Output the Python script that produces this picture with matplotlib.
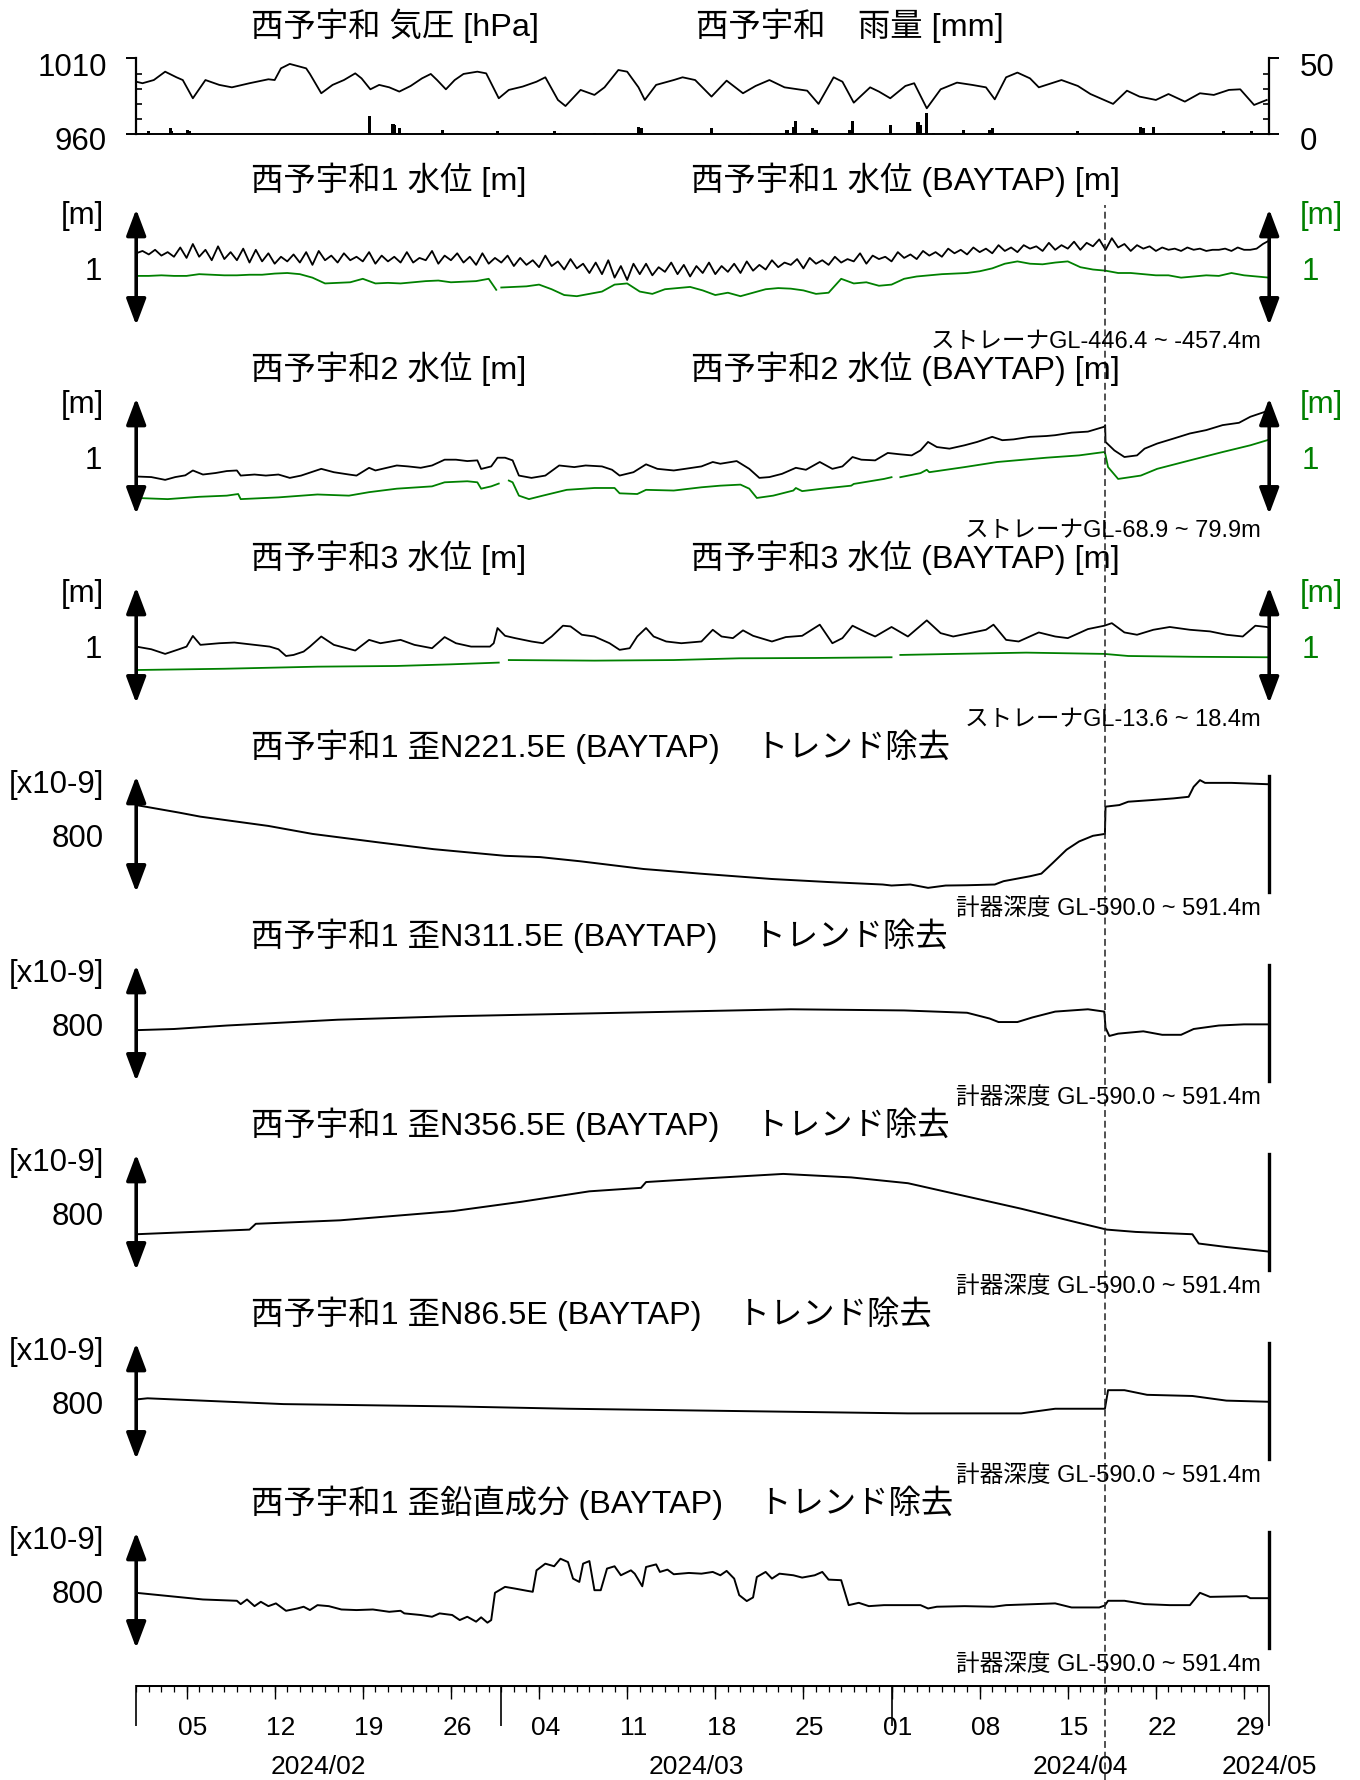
import numpy as np
import matplotlib.pyplot as plt
from matplotlib.lines import Line2D
from matplotlib.transforms import blended_transform_factory

plt.rcParams['font.family'] = ['Liberation Sans', 'Noto Sans CJK JP']

# ---------------- data (x = days since 2024-02-01 00:00) ----------------
quake_day = 76.97

pres_day = [0.0, 0.5, 1.4, 2.3, 3.2, 3.7, 4.5, 5.5, 6.6, 7.6, 9.0, 10.5, 11.0, 11.5, 12.2,
            13.5, 13.8, 14.7, 15.6, 16.5, 17.4, 17.9, 18.6, 19.3, 20.1, 20.9, 21.8, 22.7,
            23.4, 23.9, 24.6, 25.3, 26.0, 27.1, 27.8, 28.8, 29.6, 30.7, 31.8, 32.5, 33.5,
            34.1, 35.3, 36.4, 37.2, 38.3, 39.0, 39.9, 40.4, 41.3, 42.7, 43.4, 44.4, 45.7,
            46.9, 48.2, 49.2, 50.3, 51.5, 53.3, 54.2, 55.4, 56.1, 57.0, 58.3, 59.0, 59.9,
            61.1, 61.8, 62.8, 63.9, 65.2, 66.4, 67.5, 68.2, 69.1, 70.0, 71.0, 71.7, 73.5,
            74.8, 75.8, 77.6, 78.7, 79.7, 81.0, 82.0, 83.3, 84.5, 85.6, 86.8, 87.7, 88.8, 89.8]
pres_hpa = [994.6, 993.6, 995.7, 1001.2, 997.5, 995.7, 983.7, 995.7, 992.5, 990.9, 993.6,
            996.2, 995.7, 1003.4, 1006.3, 1003.4, 999.7, 987.0, 992.5, 995.7, 1000.1, 996.8,
            989.6, 992.5, 990.9, 988.1, 991.8, 996.8, 999.7, 995.7, 989.6, 995.7, 999.7,
            1001.2, 1000.1, 983.7, 989.2, 991.4, 994.6, 997.5, 982.6, 978.6, 989.2, 985.9,
            990.9, 1002.3, 1001.2, 990.9, 982.6, 992.5, 995.7, 997.5, 995.7, 984.8, 995.3,
            987.0, 991.8, 995.7, 990.9, 988.7, 980.0, 997.5, 994.6, 980.8, 990.9, 988.1,
            983.7, 991.8, 993.6, 977.1, 989.6, 994.0, 992.5, 990.9, 983.0, 997.5, 1000.6,
            996.8, 990.9, 995.7, 991.8, 986.5, 980.0, 988.7, 984.8, 982.6, 986.5, 981.5,
            987.0, 985.9, 989.2, 989.6, 979.3, 982.6]

rain_day = [1.0, 2.7, 2.8, 4.1, 4.2, 14.1, 18.5, 18.55, 20.4, 20.5, 20.9, 21.5, 24.3, 28.7,
            33.2, 33.7, 36.4, 39.9, 40.1, 45.7, 48.7, 51.7, 52.2, 52.4, 53.7, 54.0, 56.7,
            56.9, 59.9, 62.1, 62.3, 62.8, 63.3, 65.7, 67.8, 68.0, 74.8, 79.8, 80.0, 80.8,
            82.0, 83.8, 86.4, 88.6]
rain_mm = [2, 4, 2, 3, 2, 0.5, 12, 6, 7, 6, 4, 1, 3, 2, 2, 1, 1, 5, 4, 4, 1, 3, 5, 9, 4, 3,
           3, 9, 6, 8, 6, 14, 1, 3, 3, 4, 2, 5, 4, 5, 1, 0.5, 2, 2]

# well 1 observed level, every 12 h [cm]
wl1_obs_cm = [12, 14, 11, 15, 10, 13, 9, 17, 8, 20, 9, 15, 6, 18, 7, 13, 6, 16, 4, 15,
              5, 12, 3, 9, 5, 11, 4, 13, 2, 14, 6, 10, 4, 12, 6, 9, 5, 13, 3, 10,
              5, 9, 4, 13, 4, 8, 6, 14, 3, 10, 6, 12, 4, 9, 2, 12, 3, 8, 4, 10,
              1, 8, 2, 6, 0, 10, 1, 5, -2, 7, -1, 3, -5, 4, -6, 6, -9, 1, -11, 3,
              -6, 3, -7, 0, -4, 4, -6, 2, -8, 1, -5, 4, -6, 1, -4, 3, -5, 5, -3, 2,
              -2, 6, 0, 4, 2, 7, -1, 8, 3, 6, 2, 9, 4, 7, 5, 12, 3, 10, 7, 9,
              5, 13, 8, 11, 7, 14, 10, 13, 9, 16, 12, 15, 11, 17, 13, 16, 12, 19, 14, 17,
              13, 19, 16, 18, 14, 21, 15, 19, 16, 22, 15, 21, 18, 24, 15, 25, 17, 20, 14, 19,
              16, 18, 14, 17, 15, 16, 14, 17, 15, 16, 14, 15, 15, 16, 14, 17, 15, 15, 16, 20,
              23]

wl1_adj = [(0, -7.5), (1, -7.5), (2, -7), (3, -7.5), (4, -7.5), (5, -6), (6, -6.5), (7, -7),
           (8, -7), (9, -6.5), (10, -6.5), (11, -5.5), (12, -5), (13, -6), (14, -9), (15, -14),
           (16, -13.5), (17, -13), (18, -10), (19, -14), (20, -13.5), (21, -14), (22, -13),
           (23, -12), (24, -11.5), (25, -13), (26, -12.5), (27, -12), (28, -10), (28.6, -19.5),
           (28.85, np.nan), (29.0, -17.5), (30, -17), (31, -16.5), (32, -15), (33, -19), (34, -24),
           (35, -25), (36, -23), (37, -21), (38, -15), (39, -14), (40, -21), (41, -23),
           (42, -19), (43, -18), (44, -17), (45, -20), (46, -24), (47, -22), (48, -25),
           (49, -22), (50, -19), (51, -18), (52, -18.5), (53, -20), (54, -23), (55, -22),
           (56, -10), (57, -14), (58, -13), (59, -16), (60, -15), (61, -10), (62, -8),
           (63, -7), (64, -6), (65, -5.5), (66, -5), (67, -3.5), (68, -1), (69, 3), (70, 5),
           (71, 3), (72, 2.5), (73, 4), (74, 5), (75, 0), (76, -2), (77, -3), (78, -5),
           (79, -5), (80, -6), (81, -7), (82, -7), (83, -9), (84, -8), (85, -7), (86, -7.5),
           (87, -5), (88, -7), (89, -8), (90, -9)]

wl2_obs = [(0.0, -17.5), (1.2, -18), (2.3, -20.4), (3.1, -18), (3.9, -16.5), (4.5, -12.3),
           (5.3, -15.8), (6.3, -14.5), (7.2, -12.8), (8.0, -12.3), (8.3, -16.7), (9.4, -15.8),
           (10.3, -16.7), (11.3, -15.8), (12.2, -18.7), (13.1, -16.7), (14.7, -10.9),
           (15.7, -13.8), (16.9, -15.8), (17.5, -16.7), (18.5, -10), (19.0, -12.3), (20.7, -8),
           (21.6, -8.8), (22.6, -10), (23.5, -8), (24.5, -3), (25.4, -3), (26.3, -4.2),
           (27.1, -3.6), (27.4, -11), (28.2, -8.8), (28.7, -1.3), (29.3, -1.3), (29.9, -3.6),
           (30.4, -16.7), (31.4, -18.7), (32.5, -16.7), (33.6, -8), (34.8, -9.4), (35.7, -8),
           (37.0, -8.8), (37.8, -11.7), (38.4, -16.7), (39.5, -13.8), (40.5, -7), (41.4, -10.9),
           (42.7, -12.3), (43.6, -10.9), (44.9, -8.8), (45.8, -5), (46.4, -6.5), (47.7, -4.2),
           (48.7, -10.9), (49.5, -18.7), (50.3, -18), (51.3, -15.2), (52.4, -10), (53.2, -11.7),
           (54.3, -5), (55.3, -10.9), (56.1, -8.8), (56.9, -0.7), (57.6, -3), (58.7, -3.6),
           (59.7, 2.8), (60.7, 1.6), (61.6, 0.7), (62.3, 5), (62.9, 12.3), (63.6, 7.9),
           (64.6, 6.5), (65.8, 9.4), (66.8, 12.3), (68.0, 16.7), (68.8, 13.8), (69.7, 14.5),
           (71.0, 16.7), (72.3, 17.4), (73.0, 18.1), (74.3, 20.3), (75.6, 21.2), (76.9, 25.4),
           (76.97, 26.8), (77.0, 12.3), (77.7, 5), (78.5, -0.7), (79.5, 0.7), (80.1, 6.5),
           (81.1, 10.9), (82.4, 15.2), (83.7, 19.6), (85.0, 22.5), (86.3, 26.8), (87.6, 28.8),
           (88.5, 34), (89.7, 38.4), (90.0, 38)]

wl2_adj = [(0, -36), (2.5, -37), (5, -35), (7.2, -34), (8.1, -32.6), (8.3, -37), (11.3, -35.5),
           (14.4, -33), (16.9, -34), (18.5, -31), (20.7, -28), (23.5, -26), (24.5, -22.5),
           (26.3, -21.6), (27.1, -22.5), (27.4, -28), (28.2, -26), (28.8, -23.6), (28.95, np.nan),
           (29.6, -21), (29.9, -22.5), (30.4, -34), (31.2, -37), (32.3, -34), (34.2, -29),
           (36.4, -27.4), (38.0, -27.4), (38.4, -32), (39.8, -32.6), (40.5, -29), (42.7, -29.6),
           (44.9, -26.8), (46.4, -25.4), (48.0, -24.5), (48.7, -28), (49.3, -36), (50.6, -34),
           (52.2, -29.6), (52.4, -27.4), (52.9, -30.1), (54.5, -28), (56.8, -25.4), (57.0, -23.9),
           (59.4, -19.6), (60.0, -18.1), (60.4, np.nan), (60.7, -18.1), (62.3, -14.6),
           (62.8, -11.7), (63.0, -13.8), (65.8, -9.4), (68.4, -5), (72.3, -1.3), (74.9, 0.7),
           (76.9, 3.6), (76.97, 2.2), (77.2, -9.4), (78.0, -19.6), (79.8, -16.7), (81.1, -10.9),
           (83.7, -3.6), (86.3, 3.6), (88.5, 9.4), (90.0, 14.3)]

wl3_obs = [(0, -1.2), (1.2, -3.5), (2.3, -7.5), (3.4, -3.5), (4.0, -1.2), (4.5, 8), (5.1, 0.3),
           (6.6, 1.7), (7.8, 2.3), (9.4, 0.3), (10.6, -1.2), (11.3, -3.5), (11.9, -9.3),
           (12.5, -8.4), (13.3, -5.5), (13.8, -1.2), (14.7, 7.5), (15.7, 0.3), (17.4, -4.6),
           (18.5, 4.6), (19.4, 1.7), (21.0, 4.6), (22.1, 0.3), (23.5, -2.6), (24.5, 7),
           (25.4, 1.7), (26.6, -1.2), (28.1, -1.2), (28.4, 1.7), (28.7, 14.8), (29.3, 8.1),
           (30.1, 6.1), (31.4, 3.2), (32.3, 1.7), (33.0, 7.5), (33.9, 16.8), (34.5, 16.2),
           (35.4, 9), (36.4, 7.5), (37.6, 1.7), (38.4, -4), (39.2, -2.6), (39.8, 7.5),
           (40.5, 14.8), (41.1, 7.5), (42.1, 3.2), (43.3, 1.7), (44.9, 3.2), (45.8, 13.3),
           (46.5, 7.5), (47.4, 6.1), (48.2, 12.8), (49.0, 8.1), (50.5, 3.2), (51.6, 7),
           (52.9, 8.1), (54.3, 17.7), (55.3, 1.7), (56.1, 6.1), (56.9, 16.8), (58.1, 10.4),
           (58.7, 7.5), (60.0, 15.7), (61.3, 7.5), (62.8, 21.4), (63.9, 10.4), (64.9, 7.5),
           (66.2, 10.4), (67.5, 13.3), (68.1, 17.7), (69.1, 4.6), (70.1, 3.2), (71.7, 11),
           (73.0, 7.5), (74.0, 6.1), (75.6, 13.9), (76.9, 16.8), (77.5, 19), (78.5, 11),
           (79.5, 9), (80.8, 13.3), (82.1, 15.7), (83.7, 13.3), (85.3, 11.9), (86.6, 9),
           (87.9, 7.5), (88.9, 16.8), (89.8, 15.7), (90.0, 15)]

wl3_adj = [(0, -21.4), (7, -20.3), (14.4, -18.5), (20.7, -17.9), (25, -16.5), (28.8, -15),
           (28.95, np.nan), (29.6, -12.8), (36.4, -13.3), (42.7, -12.8), (47.9, -11.3),
           (54, -11), (60.0, -10.4), (60.4, np.nan), (60.7, -8.4), (65, -7.5), (70.7, -6.4),
           (76.9, -7.5), (78.8, -9.3), (84, -10), (90, -10.4)]

# strain, detrended [x1e-9]
st_n221 = [(0, 201), (3.4, 149), (5.1, 121), (10.5, 57), (14, 2), (19.3, -57), (23.6, -103),
           (29.3, -149), (32.1, -158), (35.3, -187), (40.3, -240), (41.6, -249), (44.8, -272),
           (50.5, -309), (55, -330), (59.3, -347), (60, -354), (61.5, -347), (62.9, -370),
           (64.3, -354), (66, -352), (68.2, -347), (68.9, -324), (71, -290), (71.9, -272),
           (72.8, -199), (73.9, -107), (74.9, -50), (76, -11), (76.95, 2), (77.0, 190),
           (78.1, 201), (78.8, 224), (80.6, 235), (82.4, 247), (83.6, 258), (84.0, 327),
           (84.5, 373), (84.9, 354), (87, 354), (89.8, 345), (90, 345)]
st_n311 = [(0, -48), (3, -40), (7.2, -16), (16, 24), (25, 48), (34, 64), (43, 80), (52, 96),
           (61, 88), (66, 72), (67.8, 32), (68.5, 8), (70, 8), (71.2, 40), (73, 80), (75.6, 96),
           (76.9, 80), (77.0, -32), (77.3, -88), (78, -72), (80, -56), (81.5, -80), (83, -80),
           (84, -40), (86, -16), (88, -8), (90, -8)]
st_n356 = [(0, -152), (9, -120), (9.5, -80), (16.2, -56), (25.2, 8), (30.6, 72), (36, 144),
           (40.1, 168), (40.5, 208), (45, 232), (51.4, 264), (56.8, 240), (61.3, 200),
           (65.8, 112), (70.3, 24), (74.8, -72), (77.1, -120), (79.4, -136), (83.9, -152),
           (84.4, -216), (86.6, -240), (90, -272)]
st_n86 = [(0, 12), (0.9, 20), (11.7, -20), (25.2, -36), (34.3, -52), (47.8, -68), (61.3, -84),
          (70.3, -84), (73, -52), (76.95, -52), (77.2, 76), (78.5, 76), (80.3, 44), (83.9, 36),
          (86.6, 4), (90, -4)]
st_vert = [(0, -18), (5.3, -64), (8.0, -73), (8.3, -96), (8.8, -64), (9.4, -110), (9.9, -80),
           (10.5, -110), (11.1, -91), (11.9, -142), (12.8, -126), (13.3, -114), (13.8, -137),
           (14.4, -103), (15.3, -110), (16.3, -133), (17.5, -137), (18.8, -133), (20.1, -149),
           (21.0, -142), (21.3, -160), (22.6, -171), (23.5, -183), (24.1, -160), (25.1, -171),
           (25.7, -206), (26.3, -183), (27.0, -217), (27.4, -187), (27.9, -224), (28.2, -206),
           (28.5, -18), (29.3, 23), (30.1, 11), (31.1, -5), (31.5, -11), (31.8, 137),
           (32.5, 183), (33.2, 165), (33.7, 217), (34.3, 194), (34.7, 80), (35.2, 57),
           (35.5, 183), (36.0, 201), (36.4, 0), (36.9, 0), (37.4, 149), (38.0, 165), (38.5, 103),
           (39.3, 137), (39.6, 114), (40.2, 27), (40.5, 160), (41.3, 178), (41.6, 126),
           (42.2, 142), (42.7, 110), (43.9, 119), (44.9, 114), (45.8, 126), (46.4, 103),
           (46.9, 133), (47.5, 80), (47.9, -34), (48.5, -75), (49.0, -50), (49.3, 91),
           (50.0, 126), (50.5, 80), (51.1, 114), (52.2, 103), (52.9, 87), (53.9, 103),
           (54.5, 126), (55.0, 73), (56.0, 69), (56.6, -103), (57.4, -87), (58.2, -110),
           (59.4, -103), (62.3, -103), (62.9, -126), (63.6, -114), (65.8, -110), (68.1, -114),
           (69.1, -103), (73.0, -91), (74.3, -119), (76.5, -119), (76.95, -105), (77.2, -73),
           (78.5, -73), (80.1, -96), (82.1, -103), (83.7, -103), (84.5, -18), (85.3, -46),
           (88.2, -41), (88.5, -55), (90.0, -55)]

# axis labels
week_days = [4, 11, 18, 25, 32, 39, 46, 53, 60, 67, 74, 81, 88]
week_labels = ['05', '12', '19', '26', '04', '11', '18', '25', '01', '08', '15', '22', '29']
month_days = [0, 29, 60, 90]
month_label_pos = [14.5, 44.5, 75, 90]
month_labels = ['2024/02', '2024/03', '2024/04', '2024/05']

water_titles = [('西予宇和1 水位 [m]', '西予宇和1 水位 (BAYTAP) [m]', 'ストレーナGL-446.4 ~ -457.4m'),
                ('西予宇和2 水位 [m]', '西予宇和2 水位 (BAYTAP) [m]', 'ストレーナGL-68.9 ~ 79.9m'),
                ('西予宇和3 水位 [m]', '西予宇和3 水位 (BAYTAP) [m]', 'ストレーナGL-13.6 ~ 18.4m')]
strain_titles = ['西予宇和1 歪N221.5E (BAYTAP)    トレンド除去',
                 '西予宇和1 歪N311.5E (BAYTAP)    トレンド除去',
                 '西予宇和1 歪N356.5E (BAYTAP)    トレンド除去',
                 '西予宇和1 歪N86.5E (BAYTAP)    トレンド除去',
                 '西予宇和1 歪鉛直成分 (BAYTAP)    トレンド除去']
depth_note = '計器深度 GL-590.0 ~ 591.4m'

# ---------------- layout ----------------
W, H = 1360, 1780
fig = plt.figure(figsize=(W / 100, H / 100), dpi=100)
GREEN = '#008000'
X0, X1 = 136.2, 1269.2
XW = X1 - X0
TITLE_FS, LABEL_FS, NOTE_FS, AXIS_FS = 23.3, 22.5, 17, 19


def px_axes(left, top, width, height):
    return fig.add_axes([left / W, 1 - (top + height) / H, width / W, height / H])


def ftext(x, y, s, **kw):
    kw.setdefault('va', 'center')
    fig.text(x / W, 1 - y / H, s, **kw)


def bare(ax):
    ax.set_xlim(0, 90)
    for s in ax.spines.values():
        s.set_visible(False)
    ax.set_xticks([])
    ax.set_yticks([])
    ax.patch.set_alpha(0)


def double_arrow(ax, x):
    ax.annotate('', xy=(x, 1), xytext=(x, 0), xycoords='axes fraction',
                arrowprops=dict(arrowstyle='<|-|>,head_length=1.6,head_width=0.6',
                                mutation_scale=10, lw=2.6, color='black',
                                shrinkA=0, shrinkB=0),
                annotation_clip=False)


def unzip(pairs):
    a = np.array(pairs, dtype=float)
    return a[:, 0], a[:, 1]


# ---- pressure / rain ----
ax = px_axes(X0, 58.3, XW, 76)
ax.set_xlim(0, 90)
ax.set_ylim(960, 1010)
ax.patch.set_alpha(0)
ax2 = ax.twinx()
ax2.set_ylim(0, 50)
ax2.bar(rain_day, rain_mm, width=0.25, color='black', linewidth=0)
ax.plot(pres_day, pres_hpa, color='black', lw=1.3)
for s in ['top', 'right']:
    ax.spines[s].set_visible(False)
for s in ['top', 'left', 'bottom']:
    ax2.spines[s].set_visible(False)
ax.spines['left'].set_linewidth(1.6)
ax.spines['bottom'].set_linewidth(1.4)
ax2.spines['right'].set_linewidth(1.6)
ax.set_xticks([])
for a, ticks, minor in [(ax, [960, 1010], [970, 980, 990, 1000]), (ax2, [0, 50], [10, 20, 30, 40])]:
    a.set_yticks(ticks, labels=[])
    a.set_yticks(minor, minor=True)
    a.tick_params(which='major', direction='out', length=7, width=1.4)
    a.tick_params(which='minor', direction='in', length=4, width=1.2)
ftext(107, 68, '1010', ha='right', fontsize=LABEL_FS)
ftext(107, 142.5, '960', ha='right', fontsize=LABEL_FS)
ftext(1300, 68, '50', ha='left', fontsize=LABEL_FS)
ftext(1300, 142.5, '0', ha='left', fontsize=LABEL_FS)
ftext(251, 26, '西予宇和 気圧 [hPa]', ha='left', fontsize=TITLE_FS)
ftext(696, 26, '西予宇和　雨量 [mm]', ha='left', fontsize=TITLE_FS)

# ---- water level panels ----
wl_series = [((np.arange(len(wl1_obs_cm)) * 0.5, np.array(wl1_obs_cm, float)), unzip(wl1_adj)),
             (unzip(wl2_obs), unzip(wl2_adj)),
             (unzip(wl3_obs), unzip(wl3_adj))]
centers = [267.2 + 189 * k for k in range(8)]

for k, ((od, ov), (gd, gv)) in enumerate(wl_series):
    c = centers[k]
    a = px_axes(X0, c - 58, XW, 116)
    bare(a)
    a.set_ylim(-50, 50)
    a.plot(od, ov, color='black', lw=1.3, clip_on=False)
    a.plot(gd, gv, color=GREEN, lw=1.3, clip_on=False)
    double_arrow(a, 0)
    double_arrow(a, 1)
    left_t, right_t, note = water_titles[k]
    ftext(251, c - 87, left_t, ha='left', fontsize=TITLE_FS)
    ftext(691, c - 87, right_t, ha='left', fontsize=TITLE_FS)
    ftext(104, c - 51, '[m]', ha='right', fontsize=LABEL_FS)
    ftext(102, c + 5, '1', ha='right', fontsize=LABEL_FS)
    ftext(1300, c - 51, '[m]', ha='left', fontsize=LABEL_FS, color=GREEN)
    ftext(1302, c + 5, '1', ha='left', fontsize=LABEL_FS, color=GREEN)
    ftext(1261, c + 74.5, note, ha='right', fontsize=NOTE_FS)

# ---- strain panels ----
for k, series in enumerate([st_n221, st_n311, st_n356, st_n86, st_vert]):
    c = centers[k + 3]
    a = px_axes(X0, c - 58, XW, 116)
    bare(a)
    a.set_ylim(-400, 400)
    d, v = unzip(series)
    a.plot(d, v, color='black', lw=1.4, clip_on=False)
    double_arrow(a, 0)
    a.plot([1, 1], [0, 1], transform=a.transAxes, color='black', lw=2.4, clip_on=False)
    ftext(251, c - 87, strain_titles[k], ha='left', fontsize=TITLE_FS)
    ftext(104, c - 49, '[x10-9]', ha='right', fontsize=LABEL_FS)
    ftext(104, c + 5, '800', ha='right', fontsize=LABEL_FS)
    ftext(1261, c + 74.5, depth_note, ha='right', fontsize=NOTE_FS)

# ---- time axis ----
axb = px_axes(X0, 1684.6, XW, 41)
bare(axb)
axb.set_ylim(-41, 0)
axb.axhline(0, color='black', lw=2.2)
axb.vlines(np.arange(0, 91), -7, 0, color='black', lw=0.9)
axb.vlines(week_days, -14, 0, color='black', lw=1.0)
axb.vlines(month_days, -41, 0, color='black', lw=1.2, clip_on=False)
for d, s in zip(week_days, week_labels):
    axb.text(d + 0.5, -43.5, s, ha='center', va='center', fontsize=AXIS_FS, clip_on=False)
for d, s in zip(month_label_pos, month_labels):
    axb.text(d, -82, s, ha='center', va='center', fontsize=AXIS_FS, clip_on=False)

# earthquake marker
trans = blended_transform_factory(axb.transData, fig.transFigure)
fig.add_artist(Line2D([quake_day, quake_day], [0, 1 - 205 / H], transform=trans,
                      color='#222222', lw=1.1, linestyle=(0, (4.5, 2.5))))

fig.savefig('out.png', dpi=100, facecolor='white')
